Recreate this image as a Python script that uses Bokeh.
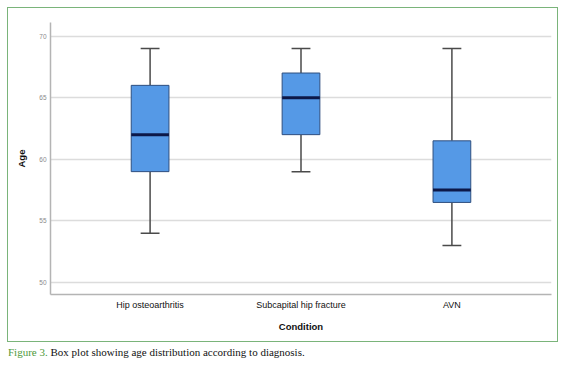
from bokeh.plotting import figure
from bokeh.models import ColumnDataSource, FactorRange, Range1d, FixedTicker, Div
from bokeh.layouts import column
from bokeh.transform import dodge
from bokeh.embed import file_html
from bokeh.resources import INLINE

categories = ["Hip osteoarthritis", "Subcapital hip fracture", "AVN"]
lower = [54, 59, 53]
q1 = [59, 62, 56.5]
median = [62, 65, 57.5]
q3 = [66, 67, 61.5]
upper = [69, 69, 69]
y_ticks = [50, 55, 60, 65, 70]

src = ColumnDataSource(dict(cat=categories, lower=lower, q1=q1, median=median, q3=q3, upper=upper))

W, H = 549, 333
p = figure(width=W, height=H, output_backend="svg", toolbar_location=None,
           x_range=FactorRange(factors=categories, range_padding=0.16, range_padding_units="absolute"),
           y_range=Range1d(49.03, 71.1),
           min_border_left=42, min_border_right=6, min_border_top=14, min_border_bottom=47)
p.outline_line_color = None
p.background_fill_color = "white"
p.border_fill_color = "white"

# axes
p.xaxis.axis_label = "Condition"
p.yaxis.axis_label = "Age"
for ax in (p.xaxis[0], p.yaxis[0]):
    ax.axis_line_color = "#b4b4b4"
    ax.axis_line_width = 1.5
    ax.major_tick_line_color = None
    ax.minor_tick_line_color = None
    ax.major_tick_out = 0
    ax.major_tick_in = 0
    ax.axis_label_text_font = "Liberation Sans"
    ax.axis_label_text_font_style = "bold"
    ax.axis_label_text_font_size = "9.5px"
    ax.axis_label_text_color = "#111111"
    ax.major_label_text_font = "Liberation Sans"
p.yaxis.ticker = FixedTicker(ticks=y_ticks)
p.yaxis.major_label_text_font_size = "6.5px"
p.yaxis.major_label_text_color = "#8a8a8a"
p.yaxis.major_label_standoff = 4
p.yaxis.axis_label_standoff = 9
p.xaxis.major_label_text_font_size = "9px"
p.xaxis.major_label_text_color = "#111111"
p.xaxis.major_label_standoff = 5
p.xaxis.axis_label_standoff = 8

p.xgrid.grid_line_color = None
p.ygrid.grid_line_color = "#dcdcdc"
p.ygrid.grid_line_width = 1.5

# whiskers
wc = "#4a4a4a"
p.segment(x0="cat", y0="q3", x1="cat", y1="upper", source=src, line_color=wc, line_width=1.5)
p.segment(x0="cat", y0="lower", x1="cat", y1="q1", source=src, line_color=wc, line_width=1.5)
p.segment(x0=dodge("cat", -0.0625, range=p.x_range), y0="upper",
          x1=dodge("cat", 0.0625, range=p.x_range), y1="upper", source=src, line_color=wc, line_width=1.5)
p.segment(x0=dodge("cat", -0.0625, range=p.x_range), y0="lower",
          x1=dodge("cat", 0.0625, range=p.x_range), y1="lower", source=src, line_color=wc, line_width=1.5)

# boxes
p.vbar(x="cat", bottom="q1", top="q3", width=0.25, source=src,
       fill_color="#5599e6", line_color="#2f4f7f", line_width=1)
# median
p.segment(x0=dodge("cat", -0.125, range=p.x_range), y0="median",
          x1=dodge("cat", 0.125, range=p.x_range), y1="median", source=src,
          line_color="#0c1848", line_width=3)

chart = column(p, styles={"border": "1.5px solid #7ab47a"})
caption = Div(text='<span style="color:#4f9a3c">Figure 3.</span> Box plot showing age distribution according to diagnosis.',
              styles={"font-family": "Liberation Serif", "font-size": "11px", "color": "#111111"},
              margin=(3, 0, 0, 1))
root = column(chart, caption, styles={"padding-left": "7px", "padding-top": "7px"})

open("out.html", "w").write(file_html(root, INLINE))
